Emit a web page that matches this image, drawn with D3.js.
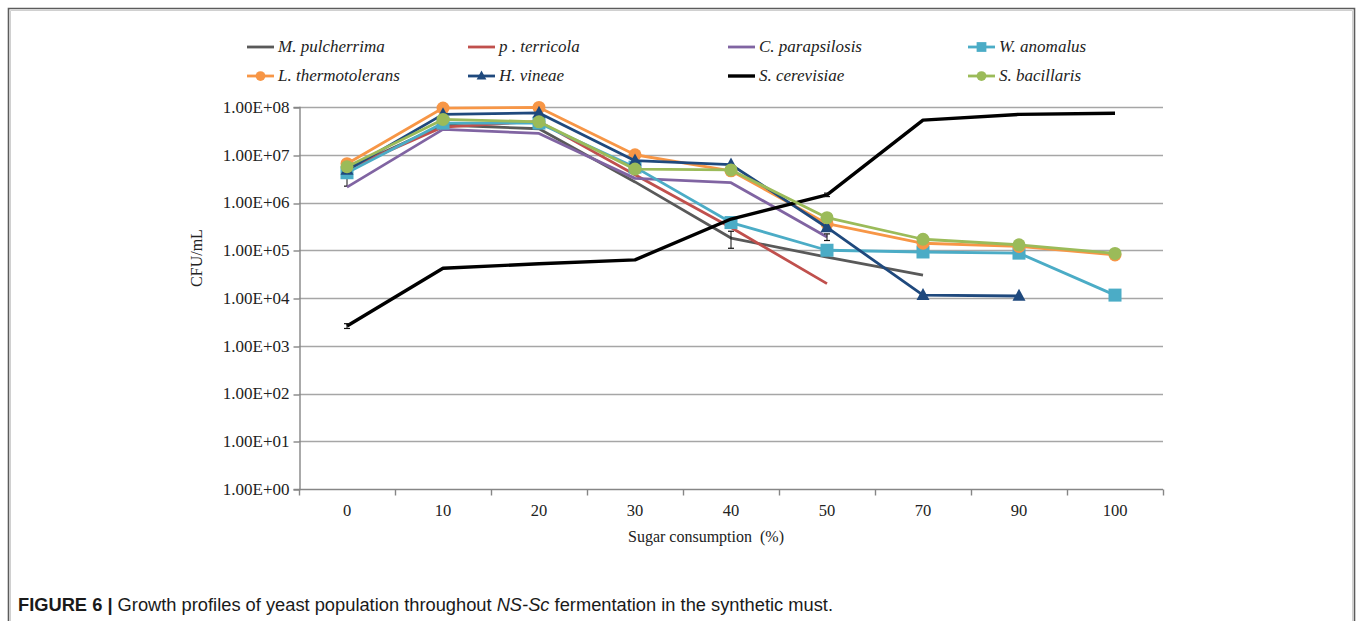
<!DOCTYPE html>
<html>
<head>
<meta charset="utf-8">
<script src="https://cdn.jsdelivr.net/npm/d3@7"></script>
<style>
  html, body { margin: 0; padding: 0; background: #fff; }
  svg { display: block; }
</style>
</head>
<body>
<svg id="chart" width="1357" height="621"></svg>
<script>
// Sugar consumption stages (%)
const categories = ["0", "10", "20", "30", "40", "50", "70", "90", "100"];

// CFU/mL per yeast species (null = no count)
const mPulcherrima   = [5.0e6, 4.2e7, 3.5e7, 2.7e6, 1.8e5, 7.2e4, 3.0e4, null, null];
const pTerricola     = [5.0e6, 3.8e7, 5.0e7, 3.8e6, 3.0e5, 2.0e4, null, null, null];
const cParapsilosis  = [2.1e6, 3.4e7, 2.8e7, 3.2e6, 2.6e6, 1.9e5, null, null, null];
const wAnomalus      = [4.2e6, 4.6e7, 4.6e7, 5.5e6, 3.8e5, 1.0e5, 9.2e4, 8.7e4, 1.15e4];
const lThermotolerans= [6.5e6, 9.5e7, 9.8e7, 1.0e7, 4.6e6, 3.6e5, 1.4e5, 1.2e5, 8.0e4];
const hVineae        = [4.8e6, 7.0e7, 7.5e7, 7.5e6, 6.2e6, 3.0e5, 1.15e4, 1.1e4, null];
const sCerevisiae    = [2.6e3, 4.2e4, 5.2e4, 6.3e4, 4.5e5, 1.45e6, 5.3e7, 7.0e7, 7.4e7];
const sBacillaris    = [5.6e6, 5.5e7, 4.9e7, 5.0e6, 4.8e6, 4.8e5, 1.7e5, 1.3e5, 8.6e4];

// Standard deviations shown as error bars (null = none drawn)
const errPulcherrima    = [2.8e6, null, null, null, 0.7e5, null, null, null, null];
const errParapsilosis   = [null, null, null, null, null, 0.3e5, null, null, null];
const errThermotolerans = [null, null, null, 1.5e6, null, null, null, null, null];
const errCerevisiae     = [0.3e3, null, null, null, null, 0.12e6, null, null, null];

const yTicks = [1e0, 1e1, 1e2, 1e3, 1e4, 1e5, 1e6, 1e7, 1e8];

const series = [
  { name: "M. pulcherrima",    values: mPulcherrima,    err: errPulcherrima,    color: "#595959", width: 2.8, marker: null },
  { name: "p . terricola",     values: pTerricola,      err: null,              color: "#C0504D", width: 2.8, marker: null },
  { name: "C. parapsilosis",   values: cParapsilosis,   err: errParapsilosis,   color: "#8064A2", width: 2.8, marker: null },
  { name: "W. anomalus",       values: wAnomalus,       err: null,              color: "#4BACC6", width: 2.8, marker: "square" },
  { name: "L. thermotolerans", values: lThermotolerans, err: errThermotolerans, color: "#F79646", width: 2.8, marker: "circle" },
  { name: "H. vineae",         values: hVineae,         err: null,              color: "#1F497D", width: 2.8, marker: "triangle" },
  { name: "S. cerevisiae",     values: sCerevisiae,     err: errCerevisiae,     color: "#000000", width: 3.4, marker: null },
  { name: "S. bacillaris",     values: sBacillaris,     err: null,              color: "#9BBB59", width: 2.8, marker: "circle" }
];

// Legend grid: series names per row, left to right
const legendOrder = [
  ["M. pulcherrima", "p . terricola", "C. parapsilosis", "W. anomalus"],
  ["L. thermotolerans", "H. vineae", "S. cerevisiae", "S. bacillaris"]
];

const svg = d3.select("#chart");
const plot = { left: 299, right: 1163, top: 107, bottom: 489 };
const serif = "'Liberation Serif', 'Times New Roman', serif";
const axisColor = "#868686";
const gridColor = "#a6a6a6";

// Outer figure frame
const frame = svg.append("g");
frame.append("path")
  .attr("d", "M8.5,621 L8.5,8.5 L1354.5,8.5 L1354.5,621")
  .attr("fill", "none").attr("stroke", "#5c5c5c").attr("stroke-width", 1.6);
frame.append("path")
  .attr("d", "M10.5,621 L10.5,10.5 L1352.5,10.5 L1352.5,621")
  .attr("fill", "none").attr("stroke", "#d0d0d0").attr("stroke-width", 1);

const x = d3.scaleBand().domain(categories).range([plot.left, plot.right]).padding(0);
const xc = c => x(c) + x.bandwidth() / 2;
const y = d3.scaleLog().domain([1, 1e8]).range([plot.bottom, plot.top]);

// Horizontal gridlines
svg.append("g").selectAll("line").data(yTicks.slice(1)).join("line")
  .attr("x1", plot.left).attr("x2", plot.right)
  .attr("y1", d => Math.round(y(d)) + 0.5).attr("y2", d => Math.round(y(d)) + 0.5)
  .attr("stroke", gridColor).attr("stroke-width", 1.4);

// Y axis
const yAxis = d3.axisLeft(y).tickValues(yTicks)
  .tickFormat(d => "1.00E+" + String(Math.round(Math.log10(d))).padStart(2, "0"))
  .tickSize(6).tickPadding(4);
const gy = svg.append("g").attr("transform", `translate(${plot.left + 0.5},0)`).call(yAxis);
gy.select(".domain").attr("stroke", axisColor).attr("stroke-width", 1.4);
gy.selectAll(".tick line").attr("stroke", axisColor).attr("stroke-width", 1.4)
  .attr("transform", d => `translate(0,${Math.round(y(d)) + 0.5 - y(d)})`);
gy.selectAll(".tick text").attr("font-family", serif).attr("font-size", 17).attr("fill", "#222");

// X axis: tick marks at category boundaries, labels centred in bands
const gx = svg.append("g").attr("transform", `translate(0,${plot.bottom + 0.5})`);
gx.append("line").attr("x1", plot.left).attr("x2", plot.right)
  .attr("stroke", axisColor).attr("stroke-width", 1.4);
const bounds = categories.map(c => x(c)).concat([plot.right]);
gx.selectAll("line.tk").data(bounds).join("line").attr("class", "tk")
  .attr("x1", d => Math.round(d) + 0.5).attr("x2", d => Math.round(d) + 0.5)
  .attr("y1", 0).attr("y2", 6)
  .attr("stroke", axisColor).attr("stroke-width", 1.4);
gx.selectAll("text").data(categories).join("text")
  .attr("x", d => xc(d)).attr("y", 26)
  .attr("text-anchor", "middle")
  .attr("font-family", serif).attr("font-size", 16.5).attr("fill", "#222")
  .text(d => d);

// Axis titles
svg.append("text")
  .attr("x", 706).attr("y", 542).attr("text-anchor", "middle")
  .attr("font-family", serif).attr("font-size", 16).attr("fill", "#222")
  .attr("xml:space", "preserve")
  .text("Sugar consumption  (%)");
svg.append("text")
  .attr("transform", "translate(202,258) rotate(-90)")
  .attr("text-anchor", "middle")
  .attr("font-family", serif).attr("font-size", 16).attr("fill", "#222")
  .text("CFU/mL");

// Marker drawing helper
function drawMarker(g, kind, color, cx, cy, scale = 1) {
  if (kind === "circle") {
    g.append("circle").attr("cx", cx).attr("cy", cy).attr("r", 6.5 * scale).attr("fill", color);
  } else if (kind === "square") {
    const s = 13 * scale;
    g.append("rect").attr("x", cx - s / 2).attr("y", cy - s / 2).attr("width", s).attr("height", s).attr("fill", color);
  } else if (kind === "triangle") {
    const w = 13 * scale, h = 12 * scale;
    g.append("path")
      .attr("d", `M${cx},${cy - h * 0.6} L${cx + w / 2},${cy + h * 0.4} L${cx - w / 2},${cy + h * 0.4} Z`)
      .attr("fill", color);
  }
}

const line = d3.line()
  .defined(d => d.v != null)
  .x(d => xc(d.c))
  .y(d => y(d.v));

const marks = svg.append("g");
series.forEach(s => {
  const pts = categories.map((c, i) => ({ c, v: s.values[i], e: s.err ? s.err[i] : null }));
  const g = marks.append("g");
  g.append("path").datum(pts)
    .attr("d", line)
    .attr("fill", "none")
    .attr("stroke", s.color)
    .attr("stroke-width", s.width)
    .attr("stroke-linejoin", "round");
  // error bars
  pts.filter(p => p.v != null && p.e != null).forEach(p => {
    const cx = xc(p.c);
    const y1 = y(p.v + p.e), y2 = y(Math.max(p.v - p.e, 1));
    g.append("line").attr("x1", cx).attr("x2", cx).attr("y1", y1).attr("y2", y2)
      .attr("stroke", "#111").attr("stroke-width", 1);
    [y1, y2].forEach(yy => g.append("line")
      .attr("x1", cx - 3).attr("x2", cx + 3).attr("y1", yy).attr("y2", yy)
      .attr("stroke", "#111").attr("stroke-width", 1.2));
  });
  if (s.marker) {
    pts.filter(p => p.v != null).forEach(p => drawMarker(g, s.marker, s.color, xc(p.c), y(p.v)));
  }
});

// Legend
const legendCols = [247, 468, 728, 968];
const legendRows = [47, 76];
const lg = svg.append("g");
legendOrder.forEach((row, ri) => {
  row.forEach((name, ci) => {
    const s = series.find(d => d.name === name);
    const x0 = legendCols[ci], yy = legendRows[ri];
    lg.append("line").attr("x1", x0).attr("x2", x0 + 27).attr("y1", yy).attr("y2", yy)
      .attr("stroke", s.color).attr("stroke-width", s.width);
    if (s.marker) drawMarker(lg, s.marker, s.color, x0 + 13.5, yy, 0.75);
    lg.append("text").attr("x", x0 + 31).attr("y", yy + 5)
      .attr("font-family", serif).attr("font-style", "italic").attr("font-size", 17)
      .attr("fill", "#222")
      .text(name);
  });
});

// Figure caption
const cap = svg.append("text")
  .attr("x", 18).attr("y", 611)
  .attr("font-family", "'Liberation Sans', Arial, sans-serif")
  .attr("font-size", 18.3).attr("fill", "#1a1a1a");
cap.append("tspan").attr("font-weight", "bold").text("FIGURE 6 |");
cap.append("tspan").text(" Growth profiles of yeast population throughout ");
cap.append("tspan").attr("font-style", "italic").text("NS-Sc");
cap.append("tspan").text(" fermentation in the synthetic must.");
</script>
</body>
</html>
